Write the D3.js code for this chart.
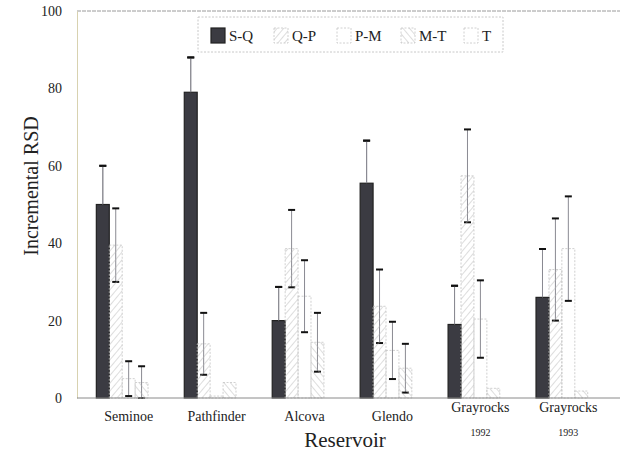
<!DOCTYPE html>
<html>
<head>
<meta charset="utf-8">
<script src="https://cdn.jsdelivr.net/npm/d3@7"></script>
<style>
  body { margin: 0; background: #fff; }
  svg text { font-family: "Liberation Serif", "DejaVu Serif", serif !important; }
</style>
</head>
<body>
<svg id="chart" width="620" height="456"></svg>
<script>
const reservoirs = ["Seminoe", "Pathfinder", "Alcova", "Glendo", "Grayrocks 1992", "Grayrocks 1993"];
const labelMain = ["Seminoe", "Pathfinder", "Alcova", "Glendo", "Grayrocks", "Grayrocks"];
const labelSub = ["", "", "", "", "1992", "1993"];
const series = ["S-Q", "Q-P", "P-M", "M-T", "T"];

// values per series, one per reservoir
const valSQ = [50, 79, 20, 55.5, 19, 26];
const valQP = [39.5, 14, 38.6, 23.7, 57.4, 33.2];
const valPM = [5, 0.5, 26.3, 12.3, 20.4, 38.6];
const valMT = [4, 4, 14.4, 7.7, 2.5, 1.8];
const valT = [0, 0, 0, 0, 0, 0];

// error bar half-widths
const errSQ = [10, 9, 8.7, 11, 10, 12.5];
const errQP = [9.5, 8, 10, 9.5, 12, 13.2];
const errPM = [4.5, 0, 9.3, 7.4, 10, 13.5];
const errMT = [4.2, 0, 7.6, 6.3, 0, 0];
const errT = [0, 0, 0, 0, 0, 0];

const yTicks = [0, 20, 40, 60, 80, 100];

const values = [valSQ, valQP, valPM, valMT, valT];
const errors = [errSQ, errQP, errPM, errMT, errT];

const svg = d3.select("#chart");
const margin = { top: 11, right: 0, bottom: 58, left: 77 };
const W = 620, H = 456;

const x0 = d3.scaleBand()
  .domain(reservoirs)
  .range([margin.left, W - margin.right])
  .paddingInner(0.265)
  .paddingOuter(0.22);

const x1 = d3.scaleBand()
  .domain(series)
  .range([0, x0.bandwidth()]);

const y = d3.scaleLinear()
  .domain([0, 100])
  .range([H - margin.bottom, margin.top]);

// patterns
const defs = svg.append("defs");
function hatch(id, angle) {
  const p = defs.append("pattern")
    .attr("id", id)
    .attr("patternUnits", "userSpaceOnUse")
    .attr("width", 5).attr("height", 5)
    .attr("patternTransform", `rotate(${angle})`);
  p.append("line")
    .attr("x1", 0).attr("y1", 0).attr("x2", 0).attr("y2", 5)
    .attr("stroke", "#b4b4b4").attr("stroke-width", 0.9);
}
hatch("hatchQP", 40);
hatch("hatchMT", -40);

const fills = {
  "S-Q": "#3b3b42",
  "Q-P": "url(#hatchQP)",
  "P-M": "none",
  "M-T": "url(#hatchMT)",
  "T": "none"
};
const strokes = {
  "S-Q": "#222",
  "Q-P": "#c4c4c4",
  "P-M": "#c4c4c4",
  "M-T": "#c4c4c4",
  "T": "#c4c4c4"
};

// frame
svg.append("line")
  .attr("x1", margin.left).attr("x2", W)
  .attr("y1", y(100)).attr("y2", y(100))
  .attr("stroke", "#9a9a9a").attr("stroke-dasharray", "4,1");

const yAxis = svg.append("g")
  .attr("transform", `translate(${margin.left},0)`)
  .call(d3.axisLeft(y).tickValues(yTicks).tickSize(0).tickPadding(15));
yAxis.attr("font-family", null);
yAxis.select(".domain").attr("stroke", "#d8d2b0");
yAxis.selectAll("text")
  .attr("font-size", 14)
  .attr("fill", "#222");

// rows of bar data
const rows = [];
reservoirs.forEach((r, i) => {
  series.forEach((s, j) => {
    rows.push({ r, s, v: values[j][i], e: errors[j][i] });
  });
});

// error bars (drawn below the bars)
const eb = svg.append("g");
rows.filter(d => d.e > 0).forEach(d => {
  const cx = x0(d.r) + x1(d.s) + x1.bandwidth() / 2;
  const lo = Math.max(0, d.v - d.e), hi = d.v + d.e;
  eb.append("line")
    .attr("x1", cx).attr("x2", cx)
    .attr("y1", y(lo)).attr("y2", y(hi))
    .attr("stroke", "#8a8a92").attr("stroke-width", 1);
  [lo, hi].forEach(t => {
    eb.append("line")
      .attr("x1", cx - 3.5).attr("x2", cx + 3.5)
      .attr("y1", y(t)).attr("y2", y(t))
      .attr("stroke", "#111").attr("stroke-width", 2);
  });
});

// bars
svg.append("g")
  .selectAll("rect")
  .data(rows.filter(d => d.v > 0))
  .join("rect")
  .attr("x", d => x0(d.r) + x1(d.s))
  .attr("y", d => y(d.v))
  .attr("width", x1.bandwidth())
  .attr("height", d => y(0) - y(d.v))
  .attr("fill", d => fills[d.s])
  .attr("stroke", d => strokes[d.s])
  .attr("stroke-width", d => d.s === "S-Q" ? 1.2 : 0.8)
  .attr("stroke-dasharray", d => d.s === "S-Q" ? null : "2,1.5");

// S-Q error bars drawn above bars only where they rise over the dark bar
rows.filter(d => d.s === "S-Q" && d.e > 0).forEach(d => {
  const cx = x0(d.r) + x1(d.s) + x1.bandwidth() / 2;
  svg.append("line")
    .attr("x1", cx).attr("x2", cx)
    .attr("y1", y(d.v)).attr("y2", y(d.v + d.e))
    .attr("stroke", "#8a8a92").attr("stroke-width", 1);
  svg.append("line")
    .attr("x1", cx - 3.5).attr("x2", cx + 3.5)
    .attr("y1", y(d.v + d.e)).attr("y2", y(d.v + d.e))
    .attr("stroke", "#111").attr("stroke-width", 2);
});

// baseline
svg.append("line")
  .attr("x1", margin.left).attr("x2", W)
  .attr("y1", y(0)).attr("y2", y(0))
  .attr("stroke", "#8a8a8a").attr("stroke-width", 1);

// category labels
reservoirs.forEach((r, i) => {
  const cx = x0(r) + x0.bandwidth() / 2;
  svg.append("text")
    .attr("x", cx).attr("y", labelSub[i] ? 412 : 421)
    .attr("text-anchor", "middle")
    .attr("font-size", 14)
    .attr("fill", "#222")
    .text(labelMain[i]);
  if (labelSub[i]) {
    svg.append("text")
      .attr("x", cx).attr("y", 436)
      .attr("text-anchor", "middle")
      .attr("font-size", 10)
      .attr("fill", "#222")
      .text(labelSub[i]);
  }
});

svg.append("text")
  .attr("x", 345).attr("y", 447)
  .attr("text-anchor", "middle")
  .attr("font-size", 21)
  .attr("fill", "#222")
  .text("Reservoir");

svg.append("text")
  .attr("transform", "translate(38,186) rotate(-90)")
  .attr("text-anchor", "middle")
  .attr("font-size", 20)
  .attr("fill", "#222")
  .text("Incremental RSD");

// legend
const lg = svg.append("g");
lg.append("rect")
  .attr("x", 198).attr("y", 17).attr("width", 305).attr("height", 35)
  .attr("fill", "#fff").attr("stroke", "#c8c8c8").attr("stroke-dasharray", "2,1.5");
const legX = [211, 274, 337, 401, 464];
series.forEach((s, j) => {
  lg.append("rect")
    .attr("x", legX[j]).attr("y", 28).attr("width", 14).attr("height", 15)
    .attr("fill", fills[s]).attr("stroke", strokes[s])
    .attr("stroke-width", s === "S-Q" ? 1.2 : 0.8)
    .attr("stroke-dasharray", s === "S-Q" ? null : "2,1.5");
  lg.append("text")
    .attr("x", legX[j] + 18).attr("y", 41)
    .attr("font-size", 15)
    .attr("fill", "#222")
    .text(s);
});
</script>
</body>
</html>
